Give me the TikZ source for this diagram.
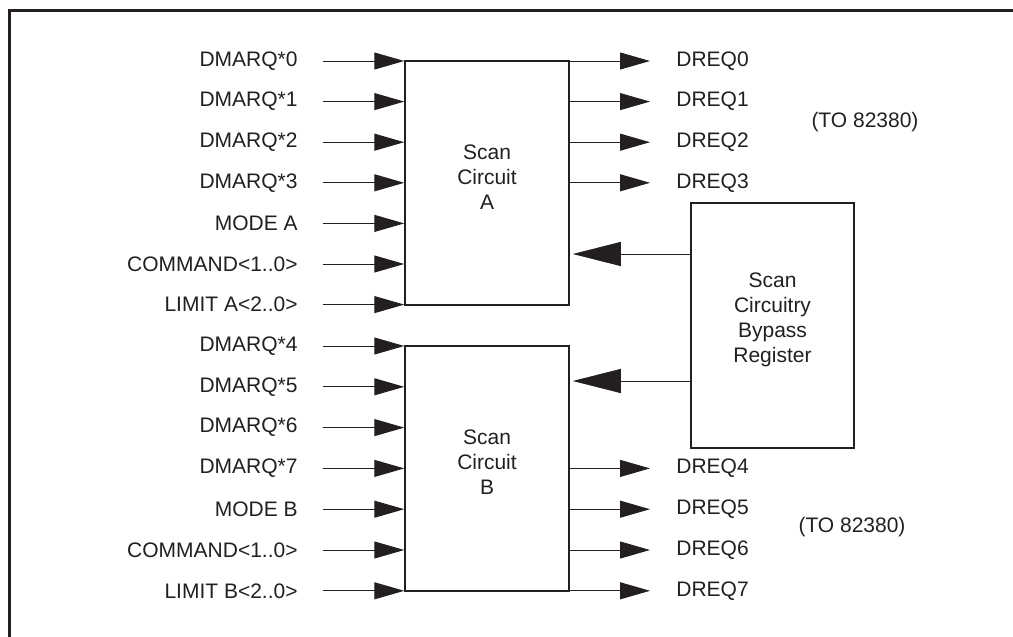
\documentclass[tikz,border=0pt]{standalone}
\usepackage{fontspec}
\setmainfont{Liberation Sans}
\usetikzlibrary{arrows.meta}
\definecolor{ink}{RGB}{35,31,32}
\tikzset{
  txt/.style={text=ink, font=\fontsize{10.5}{12.5}\selectfont},
  blk/.style={draw=ink, line width=0.75pt, minimum width=82pt},
  blktxt/.style={txt, align=center, yshift=3pt},
  inlbl/.style={txt, anchor=east, inner sep=0pt},
  outlbl/.style={txt, anchor=west, inner sep=0pt},
  sig/.style={draw=ink, line width=0.5pt, -{Triangle[length=15pt, width=8.5pt]}},
  byp/.style={draw=ink, line width=0.5pt, -{Triangle[length=24pt, width=12pt]}}
}
\begin{document}
\begin{tikzpicture}[x=0.5pt, y=-0.5pt]
    \useasboundingbox (0,0) rectangle (1013,637);
    % frame
    \draw[ink, line width=1.5pt] (9.5,637) -- (9.5,10.5) -- (1013,10.5);

    % =========================================================
    % BLOCCHI
    % =========================================================
    \node[blk, minimum height=122pt,
          label={[blktxt]center:Scan\\Circuit\\A}] (scanA) at (487,183) {};
    \node[blk, minimum height=122.5pt,
          label={[blktxt]center:Scan\\Circuit\\B}] (scanB) at (487,468.5) {};
    \node[blk, minimum width=81.5pt, minimum height=122.5pt,
          label={[blktxt]center:Scan\\Circuitry\\Bypass\\Register}] (bypass) at (772.5,325.5) {};

    % =========================================================
    % INGRESSI A
    % =========================================================
    \node[inlbl] (inA0) at (298,61) {DMARQ*0};
    \node[inlbl] (inA1) at (298,101.6) {DMARQ*1};
    \node[inlbl] (inA2) at (298,142.2) {DMARQ*2};
    \node[inlbl] (inA3) at (298,182.8) {DMARQ*3};
    \node[inlbl] (inA4) at (298,223.4) {MODE A};
    \node[inlbl] (inA5) at (298,264) {COMMAND<1..0>};
    \node[inlbl] (inA6) at (298,304.6) {LIMIT A<2..0>};
    \draw[sig] ([xshift=12.5pt]inA0.east) -- (inA0.east -| scanA.west);
    \draw[sig] ([xshift=12.5pt]inA1.east) -- (inA1.east -| scanA.west);
    \draw[sig] ([xshift=12.5pt]inA2.east) -- (inA2.east -| scanA.west);
    \draw[sig] ([xshift=12.5pt]inA3.east) -- (inA3.east -| scanA.west);
    \draw[sig] ([xshift=12.5pt]inA4.east) -- (inA4.east -| scanA.west);
    \draw[sig] ([xshift=12.5pt]inA5.east) -- (inA5.east -| scanA.west);
    \draw[sig] ([xshift=12.5pt]inA6.east) -- (inA6.east -| scanA.west);

    % Uscite A
    \node[outlbl] (outA0) at (676,61) {DREQ0};
    \node[outlbl] (outA1) at (676,101.6) {DREQ1};
    \node[outlbl] (outA2) at (676,142.2) {DREQ2};
    \node[outlbl] (outA3) at (676,182.8) {DREQ3};
    \draw[sig] (outA0.west -| scanA.east) -- ([xshift=-13pt]outA0.west);
    \draw[sig] (outA1.west -| scanA.east) -- ([xshift=-13pt]outA1.west);
    \draw[sig] (outA2.west -| scanA.east) -- ([xshift=-13pt]outA2.west);
    \draw[sig] (outA3.west -| scanA.east) -- ([xshift=-13pt]outA3.west);
    \node[txt] (destA) at (865,122) {(TO 82380)};

    % =========================================================
    % INGRESSI B
    % =========================================================
    \node[inlbl] (inB0) at (298,346) {DMARQ*4};
    \node[inlbl] (inB1) at (298,386.8) {DMARQ*5};
    \node[inlbl] (inB2) at (298,427.6) {DMARQ*6};
    \node[inlbl] (inB3) at (298,468.4) {DMARQ*7};
    \node[inlbl] (inB4) at (298,509.2) {MODE B};
    \node[inlbl] (inB5) at (298,550) {COMMAND<1..0>};
    \node[inlbl] (inB6) at (298,590.8) {LIMIT B<2..0>};
    \draw[sig] ([xshift=12.5pt]inB0.east) -- (inB0.east -| scanB.west);
    \draw[sig] ([xshift=12.5pt]inB1.east) -- (inB1.east -| scanB.west);
    \draw[sig] ([xshift=12.5pt]inB2.east) -- (inB2.east -| scanB.west);
    \draw[sig] ([xshift=12.5pt]inB3.east) -- (inB3.east -| scanB.west);
    \draw[sig] ([xshift=12.5pt]inB4.east) -- (inB4.east -| scanB.west);
    \draw[sig] ([xshift=12.5pt]inB5.east) -- (inB5.east -| scanB.west);
    \draw[sig] ([xshift=12.5pt]inB6.east) -- (inB6.east -| scanB.west);

    % Uscite B
    \node[outlbl] (outB0) at (676,468.4) {DREQ4};
    \node[outlbl] (outB1) at (676,509.2) {DREQ5};
    \node[outlbl] (outB2) at (676,550) {DREQ6};
    \node[outlbl] (outB3) at (676,590.8) {DREQ7};
    \draw[sig] (outB0.west -| scanB.east) -- ([xshift=-13pt]outB0.west);
    \draw[sig] (outB1.west -| scanB.east) -- ([xshift=-13pt]outB1.west);
    \draw[sig] (outB2.west -| scanB.east) -- ([xshift=-13pt]outB2.west);
    \draw[sig] (outB3.west -| scanB.east) -- ([xshift=-13pt]outB3.west);
    \node[txt] (destB) at (852,527) {(TO 82380)};

    % =========================================================
    % BYPASS
    % =========================================================
    \coordinate (bpA) at (bypass.west |- 0,254);
    \coordinate (bpB) at (bypass.west |- 0,381);
    \draw[byp] (bpA) -- ([xshift=1.5pt]bpA -| scanA.east);
    \draw[byp] (bpB) -- ([xshift=1.5pt]bpB -| scanB.east);
\end{tikzpicture}
\end{document}
